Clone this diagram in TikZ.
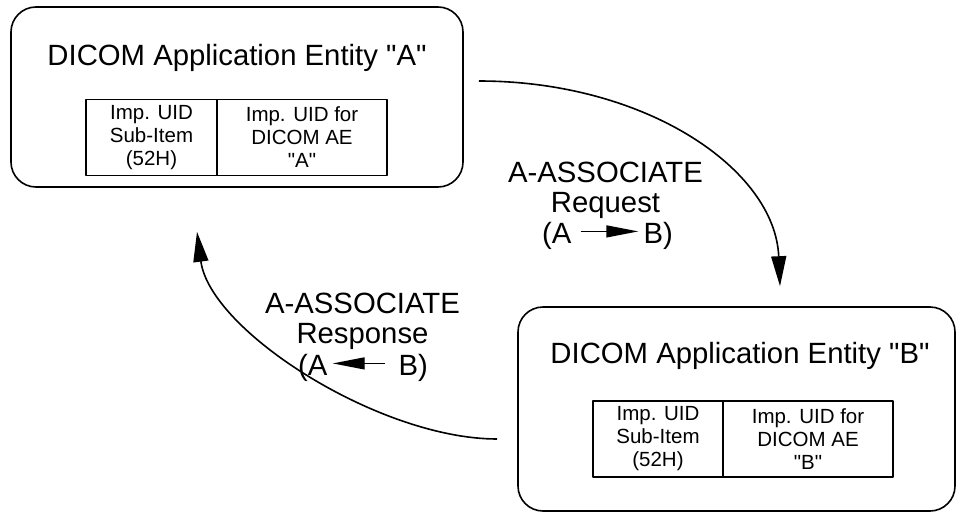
\documentclass[tikz,border=0pt]{standalone}
\usepackage{fontspec}
\setmainfont{Liberation Sans}[Ligatures=TeXOff]
\usetikzlibrary{arrows.meta}
\tikzset{
  entity/.style={draw, line width=1.6pt, rounded corners=25pt, inner sep=0pt},
  uidcell/.style={draw, line width=1.6pt, minimum height=76pt, align=center, inner sep=0pt, font=\fontsize{20.5}{23}\selectfont},
  bigtext/.style={font=\fontsize{29.3}{31}\selectfont, inner sep=0pt, anchor=base},
  flow/.style={line width=1.6pt, -{Triangle[length=30pt,width=15pt]}},
  minor/.style={line width=1.4pt, -{Triangle[length=32pt,width=12pt]}},
}
\begin{document}
\begin{tikzpicture}[x=1pt, y=-1pt, line join=round]
			\useasboundingbox (0,0) rectangle (961,514);
			% entity A
			\node[entity, minimum width=452pt, minimum height=180pt] (boxA) at (237,97) {};
			\node[bigtext] (titleA) at (237,65) {DICOM Application Entity "A"};
			\node[uidcell, minimum width=131pt] (subA) at (151.5,137.5) {Imp. UID\\Sub-Item\\(52H)};
			\node[uidcell, minimum width=170pt] (uidA) at (302,137.5) {Imp. UID for\\DICOM AE\\"A"};
			% entity B
			\node[entity, minimum width=437pt, minimum height=204pt] (boxB) at (736.5,409) {};
			\node[bigtext] (titleB) at (740,363) {DICOM Application Entity "B"};
			\node[uidcell, minimum width=130pt] (subB) at (658,439) {Imp. UID\\Sub-Item\\(52H)};
			\node[uidcell, minimum width=170pt] (uidB) at (808,439) {Imp. UID for\\DICOM AE\\"B"};
			% request
			\draw[flow] ([xshift=15pt,yshift=16pt]boxA.east) .. controls +(167,0) and +(-5,-117) .. ([xshift=43.5pt,yshift=20pt]boxB.north);
			\node[bigtext] (reqA) at (605.5,182) {A-ASSOCIATE};
			\node[bigtext] (reqB) at (605.5,212) {Request};
			\node[bigtext, anchor=base west] (reqC) at (542,243) {(A};
			\node[bigtext, anchor=base east] (reqD) at (673,243) {B)};
			\draw[minor] ([xshift=9pt,yshift=4pt]reqC.east) -- ([xshift=-5pt,yshift=4pt]reqD.west);
			% response
			\draw[flow] ([xshift=-20pt,yshift=-30pt]boxB.west) .. controls +(-118,0) and +(13,99) .. ([xshift=-40pt,yshift=-44pt]boxA.south);
			\node[bigtext] (resA) at (362.5,313) {A-ASSOCIATE};
			\node[bigtext] (resB) at (362.5,343) {Response};
			\node[bigtext, anchor=base west] (resC) at (298,375) {(A};
			\node[bigtext, anchor=base east] (resD) at (428,375) {B)};
			\draw[minor] ([xshift=-13pt,yshift=4pt]resD.west) -- ([xshift=5pt,yshift=4pt]resC.east);
		\end{tikzpicture}
\end{document}
